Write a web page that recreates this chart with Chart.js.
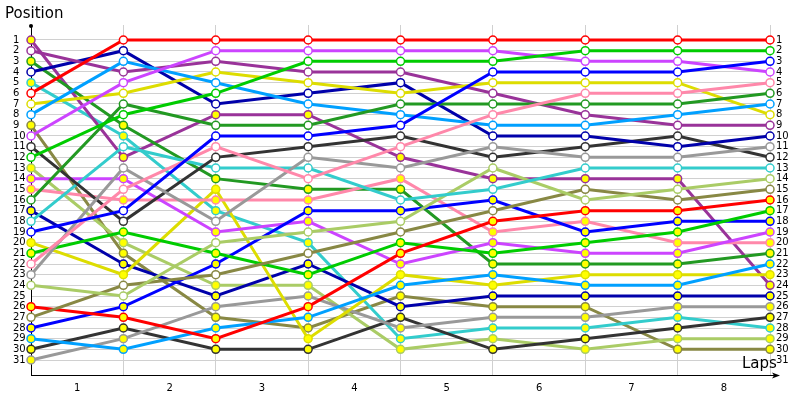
<!DOCTYPE html>
<html>
<head>
<meta charset="utf-8">
<script src="https://cdn.jsdelivr.net/npm/chart.js@4.4.1/dist/chart.umd.min.js"></script>
<style>
  html, body { margin: 0; padding: 0; background: #fff; }
  #wrap { width: 800px; height: 400px; position: relative; }
</style>
</head>
<body>
<div id="wrap"><canvas id="chart"></canvas></div>
<script>
// laps 0..8, positions per car (ordered by final position)
const laps = [0, 1, 2, 3, 4, 5, 6, 7, 8];
const lapLabels = ['1', '2', '3', '4', '5', '6', '7', '8'];
const positionTicks = [1,2,3,4,5,6,7,8,9,10,11,12,13,14,15,16,17,18,19,20,21,22,23,24,25,26,27,28,29,30,31];

const positions = [
  [6, 1, 1, 1, 1, 1, 1, 1, 1],
  [12, 8, 6, 3, 3, 3, 2, 2, 2],
  [19, 17, 10, 10, 9, 4, 4, 4, 3],
  [10, 5, 2, 2, 2, 2, 3, 3, 4],
  [22, 15, 11, 14, 11, 8, 6, 6, 5],
  [16, 7, 9, 9, 7, 7, 7, 7, 6],
  [8, 3, 5, 7, 8, 9, 9, 8, 7],
  [7, 6, 4, 5, 6, 5, 5, 5, 8],
  [2, 4, 3, 4, 4, 6, 8, 9, 9],
  [4, 2, 7, 6, 5, 10, 10, 11, 10],
  [23, 13, 18, 12, 13, 11, 12, 12, 11],
  [11, 18, 12, 11, 10, 12, 11, 10, 12],
  [18, 11, 13, 13, 16, 15, 13, 13, 13],
  [24, 25, 20, 19, 18, 13, 16, 15, 14],
  [27, 24, 23, 21, 19, 17, 15, 16, 15],
  [26, 27, 29, 26, 21, 18, 17, 17, 16],
  [21, 19, 21, 23, 20, 21, 20, 19, 17],
  [28, 26, 22, 17, 17, 16, 19, 18, 18],
  [14, 14, 19, 18, 22, 20, 21, 21, 19],
  [15, 16, 16, 16, 14, 19, 18, 20, 20],
  [3, 9, 14, 15, 15, 22, 22, 22, 21],
  [29, 30, 28, 27, 24, 23, 24, 24, 22],
  [20, 23, 15, 29, 23, 24, 23, 23, 23],
  [1, 12, 8, 8, 12, 14, 14, 14, 24],
  [17, 22, 25, 22, 26, 25, 25, 25, 25],
  [31, 29, 26, 25, 28, 27, 27, 26, 26],
  [30, 28, 30, 30, 27, 30, 29, 28, 27],
  [5, 10, 17, 20, 29, 28, 28, 27, 28],
  [13, 20, 24, 24, 30, 29, 30, 29, 29],
  [9, 21, 27, 28, 25, 26, 26, 30, 30]
];

const palette = ['#ff0000', '#00cc00', '#0000ff', '#cc44ff', '#ff88aa',
                 '#229922', '#00a0ff', '#dddd00', '#993399', '#0000aa',
                 '#999999', '#333333', '#33cccc', '#aacc66', '#888844'];

const FONT = 'DejaVu Sans';

const datasets = positions.map((vals, i) => {
  const col = palette[i % palette.length];
  return {
    data: laps.map((l, j) => ({ x: l, y: vals[j] })),
    borderColor: col,
    borderWidth: 3,
    pointRadius: 4,
    pointBorderWidth: 1.5,
    pointBorderColor: col,
    pointBackgroundColor: i < 15 ? '#ffffff' : '#ffff00',
    tension: 0,
    clip: false
  };
});

// axis decorations: titles, arrows, lap labels between gridlines
const decorations = {
  id: 'decorations',
  afterDraw(chart) {
    const { ctx, chartArea: a, scales: { x } } = chart;
    ctx.save();
    ctx.fillStyle = '#000';
    ctx.strokeStyle = '#000';
    ctx.lineWidth = 1;

    // x axis extension + arrow
    ctx.beginPath();
    ctx.moveTo(a.right, a.bottom + 0.5);
    ctx.lineTo(a.right + 8, a.bottom + 0.5);
    ctx.stroke();
    ctx.beginPath();
    ctx.moveTo(a.right + 10, a.bottom + 0.5);
    ctx.lineTo(a.right + 2, a.bottom - 2.5);
    ctx.lineTo(a.right + 4, a.bottom + 0.5);
    ctx.lineTo(a.right + 2, a.bottom + 3.5);
    ctx.closePath();
    ctx.fill();

    // y axis top dot
    ctx.beginPath();
    ctx.arc(a.left, a.top + 1, 2, 0, Math.PI * 2);
    ctx.fill();

    ctx.font = '15px ' + FONT;
    ctx.textBaseline = 'middle';
    ctx.textAlign = 'left';
    ctx.fillText('Position', 5, 14);
    ctx.fillText('Laps', 742, 364);

    ctx.font = '10px ' + FONT;
    ctx.textAlign = 'center';
    lapLabels.forEach((t, i) => {
      ctx.fillText(t, x.getPixelForValue(i + 0.5), 388);
    });
    ctx.restore();
  }
};

const posTicks = scale => {
  scale.ticks = positionTicks.map(v => ({ value: v }));
};

new Chart(document.getElementById('chart'), {
  type: 'line',
  data: { datasets },
  options: {
    responsive: true,
    maintainAspectRatio: false,
    animation: false,
    layout: { padding: { top: 25, bottom: 25, left: 13, right: 0 } },
    plugins: { legend: { display: false }, tooltip: { enabled: false } },
    scales: {
      x: {
        type: 'linear',
        min: 0,
        max: 8,
        ticks: { display: false, stepSize: 1 },
        grid: {
          drawTicks: false,
          color: ctx => ctx.tick && ctx.tick.value === 0 ? 'rgba(0,0,0,0)' : '#d0d0d0'
        },
        border: { color: '#000', width: 1 },
        afterFit: s => { s.height = 0; }
      },
      y: {
        type: 'linear',
        position: 'left',
        reverse: true,
        min: -0.406,
        max: 32.406,
        afterBuildTicks: posTicks,
        ticks: {
          autoSkip: false,
          crossAlign: 'far',
          padding: 0,
          color: '#000',
          font: { family: FONT, size: 10 }
        },
        grid: { drawTicks: false, color: '#d0d0d0' },
        border: { color: '#000', width: 1 },
        afterFit: s => { s.width = 18; }
      },
      y2: {
        type: 'linear',
        position: 'right',
        reverse: true,
        min: -0.406,
        max: 32.406,
        afterBuildTicks: posTicks,
        ticks: {
          autoSkip: false,
          padding: 6,
          color: '#000',
          font: { family: FONT, size: 10 }
        },
        grid: { display: false, drawTicks: false },
        border: { display: false },
        afterFit: s => { s.width = 30; }
      }
    }
  },
  plugins: [decorations]
});
</script>
</body>
</html>
